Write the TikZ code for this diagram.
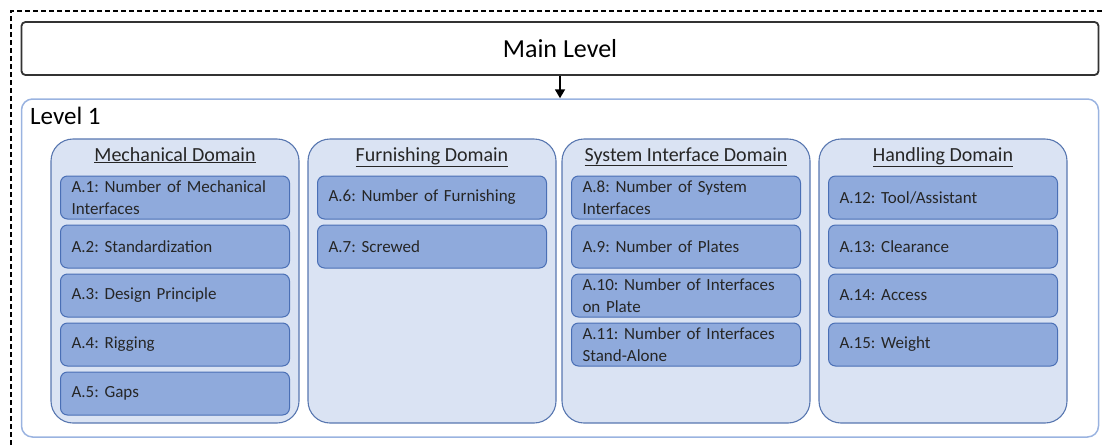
\documentclass[tikz,border=0pt]{standalone}
\usepackage{fontspec}
\setmainfont{Carlito}
\usepackage{tikz}
\usetikzlibrary{arrows.meta}

\definecolor{itemfill}{HTML}{8FAADC}
\definecolor{itemline}{HTML}{4A6FB5}
\definecolor{domfill}{HTML}{DAE3F3}
\definecolor{domline}{HTML}{5877B0}
\definecolor{lvlline}{HTML}{9AB3E0}

\frenchspacing
\hyphenpenalty=10000

\begin{document}
\begin{tikzpicture}[x=1pt,y=-1pt,
    mainbox/.style={draw=black!80,line width=1.8pt,rounded corners=4pt,
        minimum width=1077pt,minimum height=53pt,font=\fontsize{26}{29}\selectfont},
    levelbox/.style={draw=lvlline,line width=1.5pt,rounded corners=11pt,
        minimum width=1077pt,minimum height=338pt},
    domainbox/.style={draw=domline,fill=domfill,line width=1.1pt,rounded corners=22pt,
        minimum width=248pt,minimum height=284pt},
    domaintitle/.style={anchor=base,font=\fontsize{20}{23}\selectfont,text=black!85},
    itembox/.style={draw=itemline,fill=itemfill,line width=1pt,rounded corners=7pt,
        minimum height=43pt,text width=207pt,inner xsep=11pt,align=left,
        font=\fontsize{17}{21.5}\selectfont,text=black!85}]

\useasboundingbox (0,0) rectangle (1102,445);

\draw [dash pattern=on 5pt off 3pt,line width=1.1pt] (11,445) |- (1102,11);

\node [mainbox] (main) at (560,48.5) {Main Level};
\node [levelbox] (level) at (560,268) {};
\node [anchor=base west,font=\fontsize{25}{28}\selectfont,inner sep=0pt] (leveltitle) at (30,124) {Level 1};

\draw [-{Triangle[width=10pt,length=9pt]},line width=1.8pt] (main.south) -- (level.north);

\node [domainbox] (mech) at (175,281) {};
\node [domainbox] (furn) at (432,281) {};
\node [domainbox] (sys) at (686,281) {};
\node [domainbox] (hand) at (943,281) {};

\node [domaintitle] (mechtitle) at (175,161) {\underline{Mechanical Domain}};
\node [domaintitle] (furntitle) at (432,161) {\underline{Furnishing Domain}};
\node [domaintitle] (systitle) at (686,161) {\underline{System Interface Domain}};
\node [domaintitle] (handtitle) at (943,161) {\underline{Handling Domain}};

\node [itembox] (a1) at (175,197.5) {A.1: Number of Mechanical Interfaces};
\node [itembox] (a2) at (175,246.5) {A.2: Standardization};
\node [itembox] (a3) at (175,295.5) {A.3: Design Principle};
\node [itembox] (a4) at (175,344.5) {A.4: Rigging};
\node [itembox] (a5) at (175,393.5) {A.5: Gaps};

\node [itembox] (a6) at (432,197.5) {A.6: Number of Furnishing};
\node [itembox] (a7) at (432,246.5) {A.7: Screwed};

\node [itembox] (a8) at (686,197.5) {A.8: Number of System Interfaces};
\node [itembox] (a9) at (686,246.5) {A.9: Number of Plates};
\node [itembox] (a10) at (686,295.5) {A.10: Number of Interfaces on Plate};
\node [itembox] (a11) at (686,344.5) {A.11: Number of Interfaces Stand-Alone};

\node [itembox] (a12) at (943,197.5) {A.12: Tool/Assistant};
\node [itembox] (a13) at (943,246.5) {A.13: Clearance};
\node [itembox] (a14) at (943,295.5) {A.14: Access};
\node [itembox] (a15) at (943,344.5) {A.15: Weight};
\end{tikzpicture}
\end{document}
